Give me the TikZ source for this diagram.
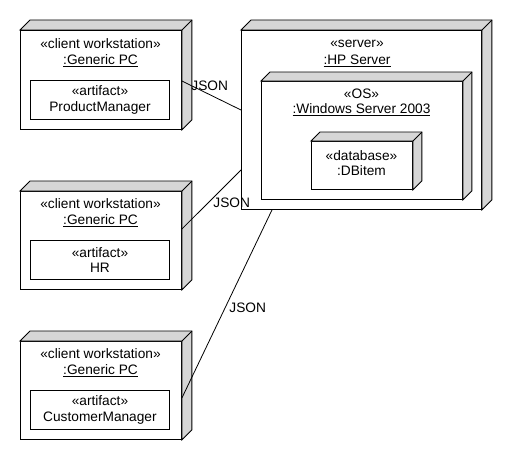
\documentclass[tikz,border=0pt]{standalone}
\usepackage{fontspec}
\setmainfont{Liberation Sans}
\definecolor{faceg}{HTML}{D6D6D6}
\newcommand\depthfaces[2]{%
  \filldraw[facestyle] (#1.north west) -- ++(#2,-#2) -- ([shift={(#2,-#2)}]#1.north east) -- ([shift={(#2,-#2)}]#1.south east) -- (#1.south east) -- (#1.north east) -- cycle;
  \draw[facestyle] (#1.north east) -- ++(#2,-#2);}
\begin{document}
\begin{tikzpicture}[x=1pt,y=-1pt,line width=0.9pt,
  every node/.style={font=\fontsize{13.7}{15.5}\selectfont, inner sep=0pt},
  front/.style={draw, fill=white, anchor=north west},
  facestyle/.style={draw, fill=faceg, line width=0.9pt},
  artbox/.style={draw, fill=white, anchor=north west, align=center, minimum width=139pt, minimum height=39pt},
  lbl/.style={anchor=center},
  conn/.style={draw, line width=0.8pt},
  jlbl/.style={anchor=west}]
\useasboundingbox[fill=white] (0,0) rectangle (510,460);
% client nodes
\node[front, minimum width=161pt, minimum height=99pt] (n1) at (20,30) {};
\depthfaces{n1}{10}
\node[front, minimum width=161pt, minimum height=98pt] (n2) at (20,191) {};
\depthfaces{n2}{10}
\node[front, minimum width=161pt, minimum height=98pt] (n3) at (20,341) {};
\depthfaces{n3}{10}
% server
\node[front, minimum width=240pt, minimum height=179pt] (srv) at (241,30) {};
\depthfaces{srv}{10}
\node[front, minimum width=201pt, minimum height=118pt] (os) at (261,81) {};
\depthfaces{os}{9}
\node[front, minimum width=101pt, minimum height=48pt] (db) at (311,141) {};
\depthfaces{db}{9}
% labels client 1
\node[lbl] (n1s) at (100.5,44) {«client workstation»};
\node[lbl] (n1n) at (100.5,61) {\underline{:Generic PC}};
\node[artbox] (a1) at (30,80) {«artifact»\\ProductManager};
% client 2
\node[lbl] (n2s) at (100.5,204) {«client workstation»};
\node[lbl] (n2n) at (100.5,221) {\underline{:Generic PC}};
\node[artbox] (a2) at (30,240) {«artifact»\\HR};
% client 3
\node[lbl] (n3s) at (100.5,354) {«client workstation»};
\node[lbl] (n3n) at (100.5,371) {\underline{:Generic PC}};
\node[artbox] (a3) at (30,390) {«artifact»\\CustomerManager};
% server labels
\node[lbl] (srvs) at (357,44) {«server»};
\node[lbl] (srvn) at (357,61) {\underline{:HP Server}};
\node[lbl] (oss) at (361.5,94) {«OS»};
\node[lbl] (osn) at (361.5,110) {\underline{:Windows Server 2003}};
\node[lbl, align=center] (dbl) at (361.5,163) {«database»\\:DBitem};
% connectors
\draw[conn] (n1.east |- 0,81) -- (srv.west |- 0,110);
\draw[conn] (n2.east |- 0,229) -- (srv.west |- 0,170);
\draw[conn] (srv.south -| 272,0) -- (n3.east |- 0,398);
\node[jlbl] (j1) at (191,86) {JSON};
\node[jlbl] (j2) at (213,203) {JSON};
\node[jlbl] (j3) at (229,308) {JSON};
\end{tikzpicture}
\end{document}
